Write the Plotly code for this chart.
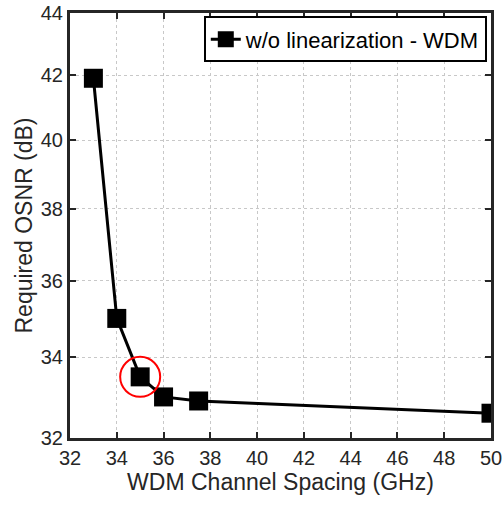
import plotly.graph_objects as go
import numpy as np

spacing = [33, 34, 35, 36, 37.5, 50]
osnr = [41.9, 35.0, 33.5, 33.0, 32.9, 32.6]
highlight_x = [35]
highlight_y = [33.5]
xticks = list(range(32, 51, 2))
yticks = list(range(32, 45, 2))

FONT = "Liberation Sans, Arial"

fig = go.Figure()
fig.add_trace(go.Scatter(
    x=spacing, y=osnr, mode="lines+markers",
    name="w/o linearization - WDM",
    line=dict(color="black", width=3),
    marker=dict(symbol="square", size=19, color="black"),
))
fig.add_trace(go.Scatter(
    x=highlight_x, y=highlight_y, mode="markers", showlegend=False,
    marker=dict(symbol="circle-open", size=40, color="#ff0000", line=dict(width=2, color="#ff0000")),
))

axis_common = dict(
    automargin=False,
    showline=True, linecolor="#262626", linewidth=3, mirror="ticks",
    ticks="inside", ticklen=6, tickwidth=2, tickcolor="#262626",
    showgrid=True, gridcolor="#c8c8c8", griddash="dot", gridwidth=1,
    zeroline=False,
    tickfont=dict(family=FONT, size=20, color="#262626"),
)
fig.update_xaxes(
    range=[32, 50], tickvals=xticks, ticktext=[str(v) for v in xticks],
    title=dict(text="WDM Channel Spacing (GHz)", font=dict(family=FONT, size=23, color="#262626"), standoff=6),
    **axis_common)
fig.update_yaxes(
    type="log", range=[np.log10(32), np.log10(44)],
    tickvals=yticks, ticktext=[str(v) for v in yticks],
    title=dict(text="Required OSNR (dB)", font=dict(family=FONT, size=23, color="#262626"), standoff=2),
    **axis_common)

fig.update_layout(
    width=503, height=506,
    margin=dict(l=70, r=12, t=13, b=68),
    plot_bgcolor="white", paper_bgcolor="white",
    legend=dict(
        x=0.99, y=0.992, xanchor="right", yanchor="top",
        bgcolor="white", bordercolor="black", borderwidth=2,
        font=dict(family=FONT, size=22, color="black"),
        itemwidth=30, tracegroupgap=0,
    ),
)
fig.write_html(
    "out.html",
    config={"displayModeBar": False},
    post_script="document.body.style.margin='0';document.body.style.overflow='hidden';",
)
